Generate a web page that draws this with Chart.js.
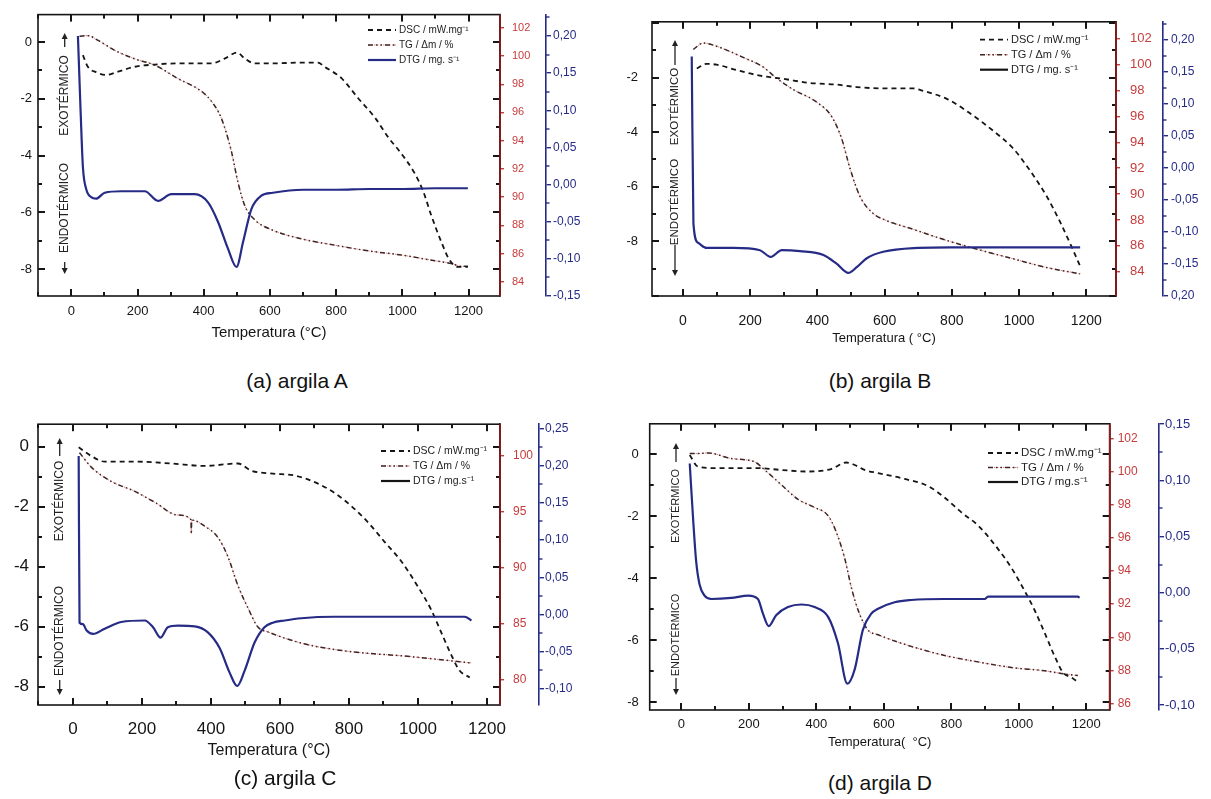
<!DOCTYPE html>
<html lang="pt">
<head>
<meta charset="UTF-8">
<title>Análise térmica das argilas</title>
<script src="https://cdn.jsdelivr.net/npm/chart.js"></script>
<style>
  body { margin: 0; background: #fff; width: 1211px; height: 799px; position: relative; overflow: hidden;
         font-family: "Liberation Sans", Arial, sans-serif; }
  canvas { position: absolute; }
  .cap { position: absolute; font-size: 21px; color: #111; transform: translate(-50%, -50%); white-space: nowrap; z-index: 2; }
</style>
</head>
<body>
<canvas id="chartA" width="600" height="350" style="left:0;top:0"></canvas>
<canvas id="chartB" width="611" height="350" style="left:600px;top:0"></canvas>
<canvas id="chartC" width="600" height="362" style="left:0;top:405px"></canvas>
<canvas id="chartD" width="611" height="355" style="left:600px;top:405px"></canvas>
<div class="cap" style="left:297px;top:381px">(a) argila A</div>
<div class="cap" style="left:880px;top:381px">(b) argila B</div>
<div class="cap" style="left:285px;top:778px">(c) argila C</div>
<div class="cap" style="left:880px;top:783px">(d) argila D</div>

<script>
// ---- argila A ----
const dscTempA = [35, 50, 75, 106, 141, 191, 252, 322, 424, 463, 501, 524, 554, 606, 700, 745, 765, 816, 866, 917, 957, 997, 1037, 1063, 1088, 1118, 1143, 1168, 1198];
const dscA = [-0.46, -0.87, -1.06, -1.16, -1.04, -0.87, -0.79, -0.75, -0.75, -0.58, -0.37, -0.58, -0.75, -0.75, -0.72, -0.72, -0.87, -1.27, -1.97, -2.66, -3.35, -3.93, -4.62, -5.26, -6.13, -7.05, -7.69, -7.92, -7.92];
const tgTempA = [25, 50, 81, 131, 191, 252, 322, 393, 423, 453, 483, 504, 524, 554, 604, 695, 796, 896, 997, 1098, 1148, 1178, 1198];
const tgA = [101.4, 101.44, 101.1, 100.4, 99.8, 99.35, 98.4, 97.5, 96.8, 95.6, 93.3, 91.0, 89.4, 88.4, 87.7, 87.05, 86.6, 86.2, 85.9, 85.5, 85.3, 85.1, 85.1];
const dtgTempA = [20, 24, 28, 35, 45, 60, 75, 101, 151, 222, 262, 302, 373, 413, 443, 473, 499, 519, 544, 574, 609, 700, 800, 900, 1000, 1100, 1198];
const dtgA = [0.200, 0.150, 0.100, 0.024, -0.006, -0.017, -0.019, -0.011, -0.009, -0.009, -0.022, -0.013, -0.013, -0.024, -0.050, -0.086, -0.111, -0.077, -0.033, -0.015, -0.011, -0.007, -0.007, -0.006, -0.006, -0.005, -0.005];

// ---- argila B ----
const dscTempB = [41, 70, 100, 160, 229, 299, 378, 458, 517, 601, 686, 715, 785, 854, 923, 982, 1033, 1082, 1122, 1157, 1182];
const dscB = [-1.67, -1.50, -1.53, -1.73, -1.93, -2.05, -2.20, -2.26, -2.35, -2.40, -2.40, -2.49, -2.78, -3.31, -3.95, -4.59, -5.41, -6.34, -7.28, -8.21, -8.91];
const tgTempB = [31, 60, 100, 179, 238, 278, 327, 397, 442, 472, 496, 526, 566, 601, 685, 785, 884, 983, 1082, 1182];
const tgB = [101.17, 101.66, 101.41, 100.55, 99.82, 98.95, 98.09, 97.11, 96.0, 94.29, 92.07, 89.86, 88.5, 88.0, 87.28, 86.42, 85.68, 85.0, 84.33, 83.84];
const dtgTempB = [26, 31, 45, 70, 150, 229, 261, 294, 348, 418, 458, 492, 517, 547, 596, 700, 800, 900, 1000, 1100, 1182];
const dtgB = [0.174, -0.087, -0.117, -0.125, -0.125, -0.1285, -0.139, -0.1285, -0.130, -0.136, -0.150, -0.164, -0.155, -0.141, -0.131, -0.125, -0.124, -0.124, -0.124, -0.124, -0.124];

// ---- argila C ----
const dscTempC = [16.5, 53, 92, 188, 285, 382, 478, 517, 579, 643, 710, 759, 807, 855, 903, 951, 1000, 1038, 1067, 1096, 1121, 1150];
const dscC = [-0.02, -0.31, -0.50, -0.50, -0.56, -0.64, -0.56, -0.80, -0.90, -0.96, -1.23, -1.55, -1.98, -2.52, -3.17, -3.81, -4.67, -5.43, -6.18, -6.93, -7.47, -7.69];
const tgTempC = [19, 53, 111, 178, 237, 304, 342, 343, 344, 382, 420, 449, 478, 507, 536, 565, 662, 758, 855, 952, 1048, 1155];
const tgC = [100.22, 98.94, 97.66, 96.80, 95.81, 94.67, 94.26, 93.0, 94.22, 93.68, 92.68, 90.97, 88.40, 86.41, 84.70, 84.27, 83.27, 82.70, 82.36, 82.14, 81.85, 81.5];
const dtgTempC = [16.5, 19, 29, 39, 58, 92, 140, 208, 232, 254, 275, 304, 353, 391, 425, 454, 476, 497, 527, 555, 579, 614, 662, 758, 952, 1135, 1155];
const dtgC = [0.213, -0.011, -0.013, -0.021, -0.026, -0.019, -0.010, -0.008, -0.017, -0.031, -0.017, -0.015, -0.016, -0.024, -0.045, -0.078, -0.096, -0.076, -0.037, -0.017, -0.011, -0.008, -0.005, -0.003, -0.003, -0.003, -0.008];

// ---- argila D ----
const dscTempD = [25, 49, 99, 227, 296, 375, 444, 489, 514, 543, 583, 662, 731, 780, 830, 879, 929, 978, 1017, 1047, 1077, 1106, 1131, 1156, 1175];
const dscD = [-0.03, -0.40, -0.45, -0.45, -0.51, -0.56, -0.48, -0.27, -0.35, -0.51, -0.61, -0.80, -1.03, -1.40, -1.88, -2.30, -2.93, -3.67, -4.41, -5.04, -5.78, -6.52, -7.05, -7.21, -7.36];
const tgTempD = [25, 49, 79, 148, 217, 247, 296, 346, 395, 435, 459, 484, 504, 524, 553, 583, 681, 780, 879, 978, 1077, 1136, 1175];
const tgD = [101.11, 101.11, 101.15, 100.81, 100.61, 100.12, 99.23, 98.34, 97.85, 97.35, 96.37, 94.79, 93.0, 91.63, 90.44, 90.15, 89.45, 88.9, 88.51, 88.17, 87.97, 87.78, 87.68];
const dtgTempD = [25, 35, 44, 54, 69, 89, 148, 198, 227, 242, 259, 281, 316, 356, 395, 435, 464, 492, 514, 538, 563, 583, 632, 681, 780, 899, 909, 1175, 1180];
const dtgD = [0.115, 0.0657, 0.028, 0.0075, -0.0026, -0.0056, -0.0047, -0.0026, -0.0056, -0.0187, -0.0297, -0.020, -0.0128, -0.0105, -0.0128, -0.0215, -0.0448, -0.081, -0.068, -0.0331, -0.0187, -0.0143, -0.0085, -0.0065, -0.0056, -0.0056, -0.0035, -0.0035, -0.0045];

// ---- tick values and labels ----
const tempTicks = [0, 200, 400, 600, 800, 1000, 1200];
const dscTicksFull = [-8, -6, -4, -2, 0];
const dscTicksB = [-8, -6, -4, -2];
const tgTicksAB = [84, 86, 88, 90, 92, 94, 96, 98, 100, 102];
const tgTicksC = [80, 85, 90, 95, 100];
const tgTicksD = [86, 88, 90, 92, 94, 96, 98, 100, 102];
const dtgTicksA = [-0.15, -0.10, -0.05, 0, 0.05, 0.10, 0.15, 0.20];
const dtgLabelsA = ['-0,15', '-0,10', '-0,05', '0,00', '0,05', '0,10', '0,15', '0,20'];
const dtgTicksB = [-0.20, -0.15, -0.10, -0.05, 0, 0.05, 0.10, 0.15, 0.20];
const dtgLabelsB = ['0,20', '-0,15', '-0,10', '-0,05', '0,00', '0,05', '0,10', '0,15', '0,20'];
const dtgTicksC = [-0.10, -0.05, 0, 0.05, 0.10, 0.15, 0.20, 0.25];
const dtgLabelsC = ['-0,10', '-0,05', '0,00', '0,05', '0,10', '0,15', '0,20', '0,25'];
const dtgTicksD = [-0.10, -0.05, 0, 0.05, 0.10, 0.15];
const dtgLabelsD = ['-0,10', '-0,05', '0,00', '0,05', '0,10', '0,15'];

Chart.defaults.font.family = '"Liberation Sans", Arial, sans-serif';
const ink = '#151515', red = '#c63c3c', redAxis = '#8e1d1d', navy = '#262b85';

function pts(temps, vals) { return temps.map((t, i) => ({ x: t, y: vals[i] })); }
const fixTicks = vals => scale => { scale.ticks = vals.map(v => ({ value: v })); };

// box round the plot, inward ticks, minor ticks on the DTG axis
const framePlugin = {
  id: 'frame',
  afterDraw(chart) {
    const { ctx, chartArea: a, scales } = chart;
    const x = scales.x, y = scales.yDsc, d = scales.yDtg;
    ctx.save();
    ctx.setLineDash([]);
    ctx.strokeStyle = ink;
    ctx.lineWidth = 1.6;
    ctx.strokeRect(a.left, a.top, a.right - a.left, a.bottom - a.top);
    ctx.fillStyle = ink;
    const xLo = x.getValueForPixel(a.left), xHi = x.getValueForPixel(a.right);
    for (let v = Math.ceil(xLo / 100) * 100; v <= xHi; v += 100) {
      const px = Math.round(x.getPixelForValue(v));
      const len = v % 200 === 0 ? 7 : 4;
      ctx.fillRect(px - 1, a.bottom - len, 2, len);
      ctx.fillRect(px - 1, a.top, 2, len);
    }
    const yLo = y.getValueForPixel(a.bottom), yHi = y.getValueForPixel(a.top);
    for (let v = Math.ceil(yLo); v <= yHi; v += 1) {
      const py = Math.round(y.getPixelForValue(v));
      const len = v % 2 === 0 ? 7 : 4;
      ctx.fillRect(a.left, py - 1, len, 2);
      ctx.fillRect(a.right - len, py - 1, len, 2);
    }
    ctx.fillStyle = redAxis;
    ctx.fillRect(a.right - 0.8, a.top, 1.6, a.bottom - a.top);
    const dLo = d.getValueForPixel(a.bottom), dHi = d.getValueForPixel(a.top);
    ctx.fillStyle = navy;
    for (let k = Math.ceil(dLo / 0.025 - 1e-6); k * 0.025 <= dHi + 1e-6; k++) {
      if (k % 2 === 0) continue;
      const py = Math.round(d.getPixelForValue(k * 0.025));
      ctx.fillRect(d.left, py - 0.7, 3.5, 1.4);
    }
    ctx.restore();
  }
};

// legend drawn inside the plot, top right
const legendPlugin = {
  id: 'inlineLegend',
  afterDraw(chart, args, o) {
    const { ctx } = chart;
    ctx.save();
    ctx.font = o.size + 'px "Liberation Sans", Arial, sans-serif';
    ctx.textBaseline = 'middle';
    o.rows.forEach((sets, i) => {
      const y = o.y + i * o.gap;
      sets.forEach(di => {
        const ds = chart.data.datasets[di];
        ctx.strokeStyle = (o.swatch && o.swatch[di]) || ds.borderColor;
        ctx.lineWidth = ds.borderWidth;
        ctx.setLineDash(ds.borderDash || []);
        ctx.beginPath(); ctx.moveTo(o.x, y); ctx.lineTo(o.x + o.len, y); ctx.stroke();
      });
      ctx.setLineDash([]);
      ctx.fillStyle = '#222';
      ctx.fillText(chart.data.datasets[sets[0]].label, o.x + o.len + 3, y);
    });
    ctx.restore();
  }
};

function arrow(ctx, x, from, to) {
  const dir = to < from ? -1 : 1;
  ctx.beginPath(); ctx.moveTo(x, from); ctx.lineTo(x, to - dir * 4); ctx.stroke();
  ctx.beginPath(); ctx.moveTo(x, to); ctx.lineTo(x - 3, to - dir * 6); ctx.lineTo(x + 3, to - dir * 6); ctx.closePath(); ctx.fill();
}

// EXOTÉRMICO / ENDOTÉRMICO side notes
const heatPlugin = {
  id: 'heatFlow',
  afterDraw(chart, args, o) {
    const { ctx } = chart;
    ctx.save();
    ctx.setLineDash([]);
    ctx.font = o.size + 'px "Liberation Sans", Arial, sans-serif';
    ctx.fillStyle = '#222';
    ctx.strokeStyle = '#222';
    ctx.lineWidth = 1.3;
    ctx.textAlign = 'center';
    ctx.textBaseline = 'middle';
    [['EXOTÉRMICO', o.exo], ['ENDOTÉRMICO', o.endo]].forEach(([t, cy]) => {
      ctx.save(); ctx.translate(o.x, cy); ctx.rotate(-Math.PI / 2); ctx.fillText(t, 0, 0); ctx.restore();
    });
    arrow(ctx, o.x, o.up[0], o.up[1]);
    arrow(ctx, o.x, o.down[0], o.down[1]);
    ctx.restore();
  }
};

function buildPanel(p) {
  new Chart(document.getElementById(p.id), {
    type: 'line',
    data: {
      datasets: [
        { label: p.dtgName, data: pts(p.dtgT, p.dtg), yAxisID: 'yDtg', borderColor: navy, borderWidth: 2.2 },
        { label: 'DSC / mW.mg⁻¹', data: pts(p.dscT, p.dsc), yAxisID: 'yDsc', borderColor: ink, borderWidth: 1.8, borderDash: [5, 4] },
        { label: 'TG / Δm / %', data: pts(p.tgT, p.tg), yAxisID: 'yTg', borderColor: '#3a2828', borderWidth: 1.5, borderDash: [5, 3, 1.5, 3, 1.5, 3] },
        { label: 'TG / Δm / %', data: pts(p.tgT, p.tg), yAxisID: 'yTg', borderColor: '#e87a74', borderWidth: 1, borderDash: [1.5, 1.5] }
      ]
    },
    options: {
      responsive: false,
      animation: false,
      devicePixelRatio: 1,
      layout: { padding: { top: p.padTop, left: 0, right: 0, bottom: 0 } },
      elements: { point: { radius: 0 }, line: { cubicInterpolationMode: 'monotone' } },
      plugins: {
        legend: { display: false },
        tooltip: { enabled: false },
        inlineLegend: p.legend,
        heatFlow: p.heat
      },
      scales: {
        x: {
          type: 'linear', min: p.xr[0], max: p.xr[1],
          afterBuildTicks: fixTicks(tempTicks),
          afterFit: s => { s.height = p.xH; },
          grid: { display: false, drawTicks: false }, border: { display: false },
          ticks: { font: { size: p.xFont }, color: ink, padding: p.xPad, callback: v => String(v) },
          title: { display: true, text: p.title, color: ink, font: { size: p.titleFont }, padding: { top: 0, bottom: p.titlePad } }
        },
        yDsc: {
          position: 'left', min: p.dscR[0], max: p.dscR[1],
          afterBuildTicks: fixTicks(p.dscTicks),
          afterFit: s => { s.width = p.leftW; },
          grid: { display: false, drawTicks: false }, border: { display: false },
          ticks: { font: { size: p.yFont }, color: ink, padding: p.leftPad, callback: v => String(v) }
        },
        yTg: {
          position: 'right', weight: 1, min: p.tgR[0], max: p.tgR[1],
          afterBuildTicks: fixTicks(p.tgTicks),
          afterFit: s => { s.width = p.redW; },
          grid: { drawOnChartArea: false, color: red, tickLength: 4, lineWidth: 1.4 },
          border: { display: true, color: redAxis, width: 1.6 },
          ticks: { font: { size: p.redFont }, color: red, padding: p.redPad, callback: v => String(v) }
        },
        yDtg: {
          position: 'right', weight: 2, min: p.dtgR[0], max: p.dtgR[1],
          afterBuildTicks: fixTicks(p.dtgTicks),
          afterFit: s => { s.width = p.blueW; },
          grid: { drawOnChartArea: false, color: navy, tickLength: 5, lineWidth: 1.4 },
          border: { display: true, color: navy, width: 1.6 },
          ticks: { font: { size: p.blueFont }, color: navy, padding: p.bluePad, callback: (v, i) => p.dtgLabels[i] }
        }
      }
    },
    plugins: [framePlugin, legendPlugin, heatPlugin]
  });
}

buildPanel({
  id: 'chartA', padTop: 10, leftW: 38, redW: 46, blueW: 54, xH: 54,
  xr: [-100.6, 1295], dscR: [-8.95, 0.97], tgR: [83.0, 102.93], dtgR: [-0.15, 0.2287],
  dscT: dscTempA, dsc: dscA, tgT: tgTempA, tg: tgA, dtgT: dtgTempA, dtg: dtgA,
  dscTicks: dscTicksFull, tgTicks: tgTicksAB, dtgTicks: dtgTicksA, dtgLabels: dtgLabelsA,
  dtgName: 'DTG / mg. s⁻¹', title: 'Temperatura (°C)',
  xFont: 13, xPad: 8, titleFont: 15, titlePad: 8, yFont: 13, leftPad: 6,
  redFont: 11, redPad: 8, blueFont: 12, bluePad: 2,
  legend: { x: 368, y: 30, gap: 15, len: 28, size: 10, rows: [[1], [3, 2], [0]] },
  heat: { x: 64.7, exo: 95.5, endo: 208, up: [47, 33], down: [262, 274], size: 12 }
});

buildPanel({
  id: 'chartB', padTop: 9, leftW: 52, redW: 47, blueW: 48, xH: 54,
  xr: [-92.3, 1288.7], dscR: [-10, 0.04], tgR: [82.13, 103.3], dtgR: [-0.2, 0.228],
  dscT: dscTempB, dsc: dscB, tgT: tgTempB, tg: tgB, dtgT: dtgTempB, dtg: dtgB,
  dscTicks: dscTicksB, tgTicks: tgTicksAB, dtgTicks: dtgTicksB, dtgLabels: dtgLabelsB,
  dtgName: 'DTG / mg. s⁻¹', title: 'Temperatura ( °C)',
  xFont: 14, xPad: 17, titleFont: 13, titlePad: 4, yFont: 13, leftPad: 14,
  redFont: 13, redPad: 10, blueFont: 12, bluePad: 3,
  legend: { x: 380, y: 39.7, gap: 15, len: 28, size: 11, rows: [[1], [3, 2], [0]], swatch: { 0: ink } },
  heat: { x: 75, exo: 106.5, endo: 202, up: [65, 40], down: [245, 276], size: 11.5 }
});

buildPanel({
  id: 'chartC', padTop: 10, leftW: 38, redW: 39, blueW: 61, xH: 62,
  xr: [-101.4, 1237.7], dscR: [-8.61, 0.75], tgR: [77.76, 102.76], dtgR: [-0.1215, 0.2556],
  dscT: dscTempC, dsc: dscC, tgT: tgTempC, tg: tgC, dtgT: dtgTempC, dtg: dtgC,
  dscTicks: dscTicksFull, tgTicks: tgTicksC, dtgTicks: dtgTicksC, dtgLabels: dtgLabelsC,
  dtgName: 'DTG / mg.s⁻¹', title: 'Temperatura (°C)',
  xFont: 17, xPad: 14.5, titleFont: 16, titlePad: 7, yFont: 17, leftPad: 9,
  redFont: 12, redPad: 9, blueFont: 12, bluePad: 1,
  legend: { x: 381, y: 46, gap: 15, len: 29, size: 10.5, rows: [[1], [3, 2], [0]], swatch: { 0: ink } },
  heat: { x: 59.7, exo: 96, endo: 226, up: [51, 33], down: [275, 290], size: 12 }
});

buildPanel({
  id: 'chartD', padTop: 13, leftW: 49.7, redW: 49.3, blueW: 52, xH: 50,
  xr: [-93.6, 1269.3], dscR: [-8.26, 0.98], tgR: [85.6, 102.91], dtgR: [-0.1044, 0.1503],
  dscT: dscTempD, dsc: dscD, tgT: tgTempD, tg: tgD, dtgT: dtgTempD, dtg: dtgD,
  dscTicks: dscTicksFull, tgTicks: tgTicksD, dtgTicks: dtgTicksD, dtgLabels: dtgLabelsD,
  dtgName: 'DTG / mg.s⁻¹', title: 'Temperatura(  °C)',
  xFont: 13, xPad: 7, titleFont: 13, titlePad: 10, yFont: 13, leftPad: 11,
  redFont: 12, redPad: 4, blueFont: 13, bluePad: 1,
  legend: { x: 388, y: 48, gap: 14.5, len: 30, size: 11.5, rows: [[1], [3, 2], [0]], swatch: { 0: ink } },
  heat: { x: 76, exo: 101, endo: 230, up: [57, 38], down: [273, 290], size: 11 }
});
</script>
</body>
</html>
